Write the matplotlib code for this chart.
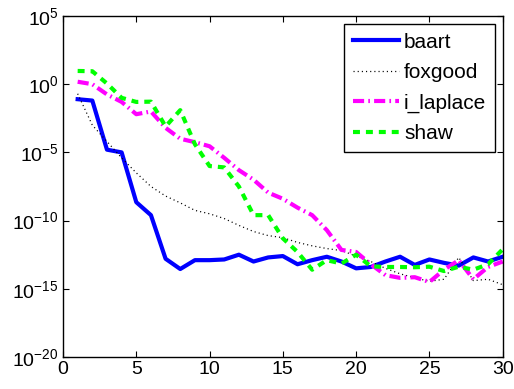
import matplotlib
matplotlib.use("Agg")
import matplotlib.pyplot as plt
import numpy as np

plt.rcParams['font.family'] = ['Liberation Sans', 'DejaVu Sans']
plt.rcParams['mathtext.fontset'] = 'custom'
plt.rcParams['mathtext.rm'] = 'Liberation Sans'
plt.rcParams['mathtext.it'] = 'Liberation Sans'
plt.rcParams['mathtext.bf'] = 'Liberation Sans'
plt.rcParams['lines.scale_dashes'] = False

# iteration index
k = np.arange(1, 31)

# log10 of the plotted values
baart_log = [-1.1, -1.2, -4.8, -5.0, -8.65, -9.6, -12.8, -13.55, -12.9, -12.9,
             -12.85, -12.5, -13.0, -12.7, -12.6, -13.2, -12.9, -12.65, -13.0, -13.5,
             -13.4, -13.0, -12.65, -13.25, -12.85, -13.1, -13.3, -12.7, -13.0, -12.65]
foxgood_log = [-0.7, -3.0, -4.2, -5.4, -6.5, -7.5, -8.2, -8.7, -9.25, -9.5,
               -9.85, -10.35, -10.8, -11.1, -11.25, -11.6, -11.85, -12.05, -12.2, -12.6,
               -13.0, -13.5, -13.9, -14.2, -14.45, -14.3, -12.7, -14.4, -14.3, -14.7]
ilaplace_log = [0.18, 0.0, -0.75, -1.3, -2.2, -2.0, -3.2, -4.0, -4.25, -4.55,
                -5.4, -6.3, -7.0, -7.95, -8.4, -9.05, -9.6, -10.7, -12.15, -12.3,
                -13.2, -14.0, -14.2, -14.15, -14.5, -13.6, -12.9, -14.3, -13.4, -13.0]
shaw_log = [0.97, 0.95, 0.05, -1.0, -1.3, -1.28, -3.1, -1.9, -4.4, -6.0,
            -6.1, -7.5, -9.6, -9.6, -11.3, -12.3, -13.6, -12.9, -13.15, -12.5,
            -13.35, -13.4, -13.4, -13.42, -13.38, -13.7, -13.38, -13.6, -13.2, -12.1]

fig = plt.figure(figsize=(5.14, 3.89), dpi=100)
ax = fig.add_axes([63 / 514, 32 / 389, 439.7 / 514, 341 / 389])

ax.semilogy(k, 10.0 ** np.array(baart_log), color=(0, 0, 1), lw=3, label='baart')
ax.semilogy(k, 10.0 ** np.array(foxgood_log), color='k', lw=0.9,
            dashes=(0.8, 2.2), label='foxgood')
ax.semilogy(k, 10.0 ** np.array(ilaplace_log), color=(1, 0, 1), lw=3,
            dashes=(8, 3, 1.2, 3), label='i_laplace')
ax.semilogy(k, 10.0 ** np.array(shaw_log), color=(0, 1, 0), lw=3,
            dashes=(5, 4.3), label='shaw')

ax.set_xlim(0, 30)
ax.set_ylim(1e-20, 1e5)
ax.set_xticks(range(0, 31, 5))
ax.set_yticks([10.0 ** e for e in range(-20, 6, 5)])
ax.set_yticklabels([r'$10^{%d}$' % e if e >= 0 else r'$10^{-%d}$' % -e
                    for e in range(-20, 6, 5)])
ax.minorticks_off()
ax.tick_params(direction='in', length=4, width=0.8, top=True, right=True,
               labelsize=14, pad=3)
for s in ax.spines.values():
    s.set_linewidth(1.0)

leg = ax.legend(loc='upper right', bbox_to_anchor=(0.9825, 0.9765),
                borderaxespad=0, fontsize=15, handlelength=2.2,
                labelspacing=0.55, handletextpad=0.25, borderpad=0.42,
                fancybox=False, framealpha=1, edgecolor='k')
leg.get_frame().set_linewidth(1.0)

fig.savefig('out.png', dpi=100)
